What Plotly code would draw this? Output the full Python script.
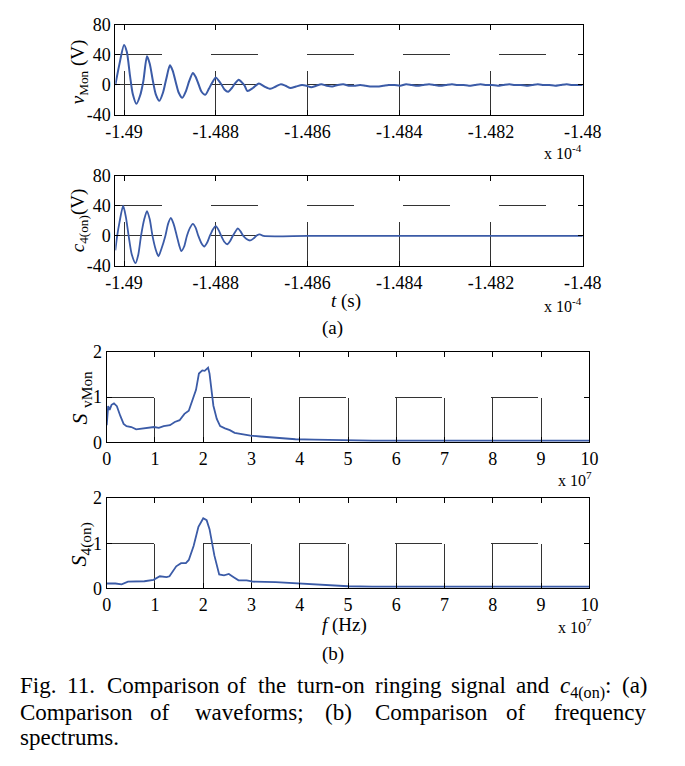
import plotly.graph_objects as go

# ---------------- data ----------------
# time axis in units of 1e-4 s
T_VMON = [-1.49019, -1.49010, -1.49000, -1.48994, -1.48987, -1.48981, -1.48973, -1.48965, -1.48958, -1.48950,
          -1.48944, -1.48937, -1.48931, -1.48923, -1.48915, -1.48908, -1.48900, -1.48894, -1.48887, -1.48881,
          -1.48873, -1.48865, -1.48858, -1.48850, -1.48844, -1.48837, -1.48831, -1.48823, -1.48815, -1.48808,
          -1.48800, -1.48794, -1.48787, -1.48781, -1.48773, -1.48765, -1.48758, -1.48750, -1.48744, -1.48737,
          -1.48731, -1.48719, -1.48706, -1.48694, -1.48681, -1.48669, -1.48658, -1.48648, -1.48637, -1.48625,
          -1.48612, -1.48602, -1.48592, -1.48581, -1.48570, -1.48558, -1.48546, -1.48534, -1.48522, -1.48510,
          -1.48498, -1.48485, -1.48473, -1.48460, -1.48448, -1.48435, -1.48423, -1.48410, -1.48398, -1.48385,
          -1.48373, -1.48360, -1.48348, -1.48335, -1.48323, -1.48310, -1.48298, -1.48285, -1.48273, -1.48260,
          -1.48248, -1.48235, -1.48223, -1.48210, -1.48198, -1.48185, -1.48173, -1.48160, -1.48148, -1.48135,
          -1.48123, -1.48110, -1.48098, -1.48085, -1.48073, -1.48060, -1.48048, -1.48035, -1.48023, -1.48010, -1.48000]
V_VMON = [0, 28, 53, 44, 12, -12, -25, -14, 5, 38,
          28, 5, -12, -21, -10, 8, 26, 19, 3, -10,
          -17, -8, 5, 16, 11, 0, -9, -13, -5, 3,
          10, 6, 0, -6, -9, -4, 2, 7, 4, -1,
          -8, -4, 2, -2, -5, -2, 1, -1, -4, -2,
          0, -1, -3, -1, 1, -1, -2, 0, 1, -1,
          -1, 0, -1, -2, -2, -1, 0, 0, -1, 1,
          0, -1, 0, 1, 0, -1, 0, 1, 0, 0,
          -1, 0, 1, 0, 0, -1, 0, 1, 0, 0,
          -1, 0, 1, 0, 0, -1, 0, 1, 0, 0, 0]

T_C4 = [-1.49019, -1.49015, -1.49010, -1.49002, -1.48996, -1.48990, -1.48983, -1.48975, -1.48969, -1.48963,
        -1.48956, -1.48950, -1.48944, -1.48938, -1.48931, -1.48925, -1.48919, -1.48910, -1.48904, -1.48898,
        -1.48892, -1.48885, -1.48879, -1.48875, -1.48869, -1.48863, -1.48856, -1.48850, -1.48844, -1.48838,
        -1.48831, -1.48825, -1.48819, -1.48813, -1.48806, -1.48800, -1.48794, -1.48788, -1.48781, -1.48775,
        -1.48769, -1.48763, -1.48756, -1.48752, -1.48746, -1.48740, -1.48733, -1.48725, -1.48717, -1.48710,
        -1.48704, -1.48696, -1.48600, -1.48400, -1.48200, -1.48000]
V_C4 = [-19, 0, 18, 40, 25, 0, -25, -36, -25, 0,
        22, 33, 22, 0, -18, -27, -18, 0, 16, 24,
        16, 0, -14, -20, -14, 0, 11, 16, 11, 0,
        -10, -14, -9, 0, 9, 13, 8, 0, -8, -11,
        -7, 0, 7, 10, 6, 0, -4, -6, -3, 1,
        2, 0, 0, 0, 0, 0]

# frequency axis in units of 1e7 Hz
F_SV = [0, 0.03, 0.06, 0.1, 0.15, 0.21, 0.28, 0.35, 0.41, 0.51,
        0.61, 0.75, 0.88, 0.98, 1.08, 1.18, 1.31, 1.41, 1.51, 1.61,
        1.70, 1.78, 1.85, 1.91, 1.98, 2.03, 2.10, 2.13, 2.17, 2.21,
        2.28, 2.35, 2.45, 2.55, 2.65, 2.78, 2.98, 3.18, 3.45, 3.71,
        3.91, 4.3, 4.7, 5.0, 5.5, 6.0, 6.5, 7.0, 7.5, 8.0,
        8.5, 9.0, 9.5, 10.0]
S_SV = [0.38, 0.8, 0.72, 0.83, 0.86, 0.8, 0.59, 0.41, 0.36, 0.34,
        0.29, 0.31, 0.32, 0.34, 0.32, 0.36, 0.38, 0.45, 0.49, 0.63,
        0.7, 0.95, 1.16, 1.52, 1.59, 1.58, 1.65, 1.52, 1.16, 0.81,
        0.52, 0.36, 0.31, 0.27, 0.21, 0.18, 0.15, 0.13, 0.11, 0.09,
        0.07, 0.06, 0.05, 0.05, 0.04, 0.04, 0.04, 0.04, 0.03, 0.04,
        0.03, 0.03, 0.03, 0.04]

F_S4 = [0, 0.18, 0.31, 0.44, 0.78, 0.97, 1.1, 1.24, 1.3, 1.44,
        1.54, 1.64, 1.7, 1.8, 1.9, 2.0, 2.07, 2.13, 2.23, 2.33,
        2.43, 2.53, 2.63, 2.73, 2.9, 3.03, 3.5, 3.83, 4.03, 4.36,
        4.7, 5.0, 5.5, 6.0, 6.5, 7.0, 7.5, 8.0, 8.5, 9.0,
        9.5, 10.0]
S_S4 = [0.11, 0.11, 0.09, 0.15, 0.16, 0.19, 0.27, 0.25, 0.27, 0.49,
        0.56, 0.56, 0.63, 0.94, 1.36, 1.55, 1.51, 1.31, 0.73, 0.31,
        0.29, 0.32, 0.25, 0.18, 0.18, 0.15, 0.14, 0.12, 0.11, 0.08,
        0.06, 0.05, 0.04, 0.04, 0.03, 0.04, 0.03, 0.03, 0.04, 0.03,
        0.03, 0.04]

T_TICKS = [-1.49, -1.488, -1.486, -1.484, -1.482, -1.48]
T_TICKTEXT = ["-1.49", "-1.488", "-1.486", "-1.484", "-1.482", "-1.48"]
V_TICKS = [-40, 0, 40, 80]
V_TICKTEXT = ["-40", "0", "40", "80"]
F_TICKS = [0, 1, 2, 3, 4, 5, 6, 7, 8, 9, 10]
F_TICKTEXT = [str(v) for v in F_TICKS]
S_TICKS = [0, 1, 2]
S_TICKTEXT = ["0", "1", "2"]

CAPTION_LINE1 = ["Fig.", "11.", "Comparison", "of", "the", "turn-on", "ringing", "signal", "and",
                 "<i>c</i><sub>4(on)</sub>:", "(a)"]
CAPTION_LINE2 = ["Comparison", "of", "waveforms;", "(b)", "Comparison", "of", "frequency"]
CAPTION_LINE3 = "spectrums."

# ---------------- layout helpers ----------------
W, H = 685, 766
FONT = "Liberation Serif"
BLUE = "#3b5ba7"


def px(x):
    return x / W


def py(y):
    return 1 - y / H


fig = go.Figure()
fig.add_trace(go.Scatter(x=T_VMON, y=V_VMON, mode="lines", line=dict(color=BLUE, width=2, shape="spline", smoothing=0.7),
                         xaxis="x", yaxis="y", showlegend=False))
fig.add_trace(go.Scatter(x=T_C4, y=V_C4, mode="lines", line=dict(color=BLUE, width=1.8, shape="spline", smoothing=0.7),
                         xaxis="x2", yaxis="y2", showlegend=False))
fig.add_trace(go.Scatter(x=F_SV, y=S_SV, mode="lines", line=dict(color=BLUE, width=1.8),
                         xaxis="x3", yaxis="y3", showlegend=False))
fig.add_trace(go.Scatter(x=F_S4, y=S_S4, mode="lines", line=dict(color=BLUE, width=1.8),
                         xaxis="x4", yaxis="y4", showlegend=False))

common = dict(showline=True, linecolor="black", linewidth=1.2, mirror="ticks",
              ticks="inside", ticklen=5, tickwidth=1, tickcolor="black",
              zeroline=False, showgrid=True, gridcolor="#333333", gridwidth=1,
              tickfont=dict(family=FONT, size=18, color="black"), fixedrange=True)
xgrid = "0px,46px,47px,200px"   # vertical grid: solid only over the lower half
ygrid = "47px,49px"             # horizontal grid: long dashes
boxes = {"1": (110, 598, 15, 108), "2": (110, 598, 170, 263),
         "3": (101, 605, 351, 444), "4": (101, 605, 501, 594)}
layout_axes = {}
for k, (l, r, t, b) in boxes.items():
    xa = "xaxis" if k == "1" else "xaxis" + k
    ya = "yaxis" if k == "1" else "yaxis" + k
    yname = "y" if k == "1" else "y" + k
    xname = "x" if k == "1" else "x" + k
    if k in ("1", "2"):
        xr, xt, xtt = [-1.49019, -1.48], T_TICKS, T_TICKTEXT
        yr, yt, ytt = [-40, 80], V_TICKS, V_TICKTEXT
    else:
        xr, xt, xtt = [0, 10], F_TICKS, F_TICKTEXT
        yr, yt, ytt = [0, 2], S_TICKS, S_TICKTEXT
    layout_axes[xa] = dict(common, domain=[px(l), px(r)], range=xr, tickmode="array",
                           tickvals=xt, ticktext=xtt, anchor=yname, griddash=xgrid)
    layout_axes[ya] = dict(common, domain=[py(b), py(t)], range=yr, tickmode="array",
                           tickvals=yt, ticktext=ytt, anchor=xname, griddash=ygrid)

fig.update_layout(width=W, height=H, margin=dict(l=0, r=0, t=0, b=0),
                  paper_bgcolor="white", plot_bgcolor="white", **layout_axes)

ann = []


def text(x, y, s, size=18, xanchor="center", angle=0, yanchor="middle"):
    ann.append(dict(x=px(x), y=py(y), xref="paper", yref="paper", text=s, showarrow=False,
                    xanchor=xanchor, yanchor=yanchor, textangle=angle, borderpad=0,
                    font=dict(family=FONT, size=size, color="black")))


# y axis titles
text(72, 63, "<i>v</i><sub>Mon</sub> (V)", 19, angle=-90)
text(72, 216, "<i>c</i><sub>4(on)</sub>(V)", 19, angle=-90)
text(74, 398, "<i>S</i> <sub>vMon</sub>", 22, angle=-90)
text(74, 549, "<i>S</i><sub>4(on)</sub>", 22, angle=-90)

# exponent labels
text(577, 146, "x 10<sup>-4</sup>", 16)
text(577, 303, "x 10<sup>-4</sup>", 16)
text(590, 482, "x 10<sup>7</sup>", 16)
text(590, 633, "x 10<sup>7</sup>", 16)

# x titles and panel labels
text(351, 299, "<i>t</i> (s)", 19)
text(337, 327, "(a)", 19)
text(349, 631, "<i>f</i> (Hz)", 19)
text(337, 661, "(b)", 19)

# caption (justified lines: words placed individually)
line1_x = [9, 58, 100, 226, 258, 299, 380, 459, 527, 573, 638]
for word, x0 in zip(CAPTION_LINE1, line1_x):
    text(x0, 680, word, 23, xanchor="left", yanchor="top")
line2_x = [9, 145, 192, 328, 380, 517, 567]
for word, x0 in zip(CAPTION_LINE2, line2_x):
    text(x0, 707, word, 23, xanchor="left", yanchor="top")
text(9, 733, CAPTION_LINE3, 23, xanchor="left", yanchor="top")

fig.update_layout(annotations=ann)
fig.write_html("out.html", config={"displayModeBar": False},
               post_script="document.body.style.margin='0';document.body.style.overflow='hidden';")
